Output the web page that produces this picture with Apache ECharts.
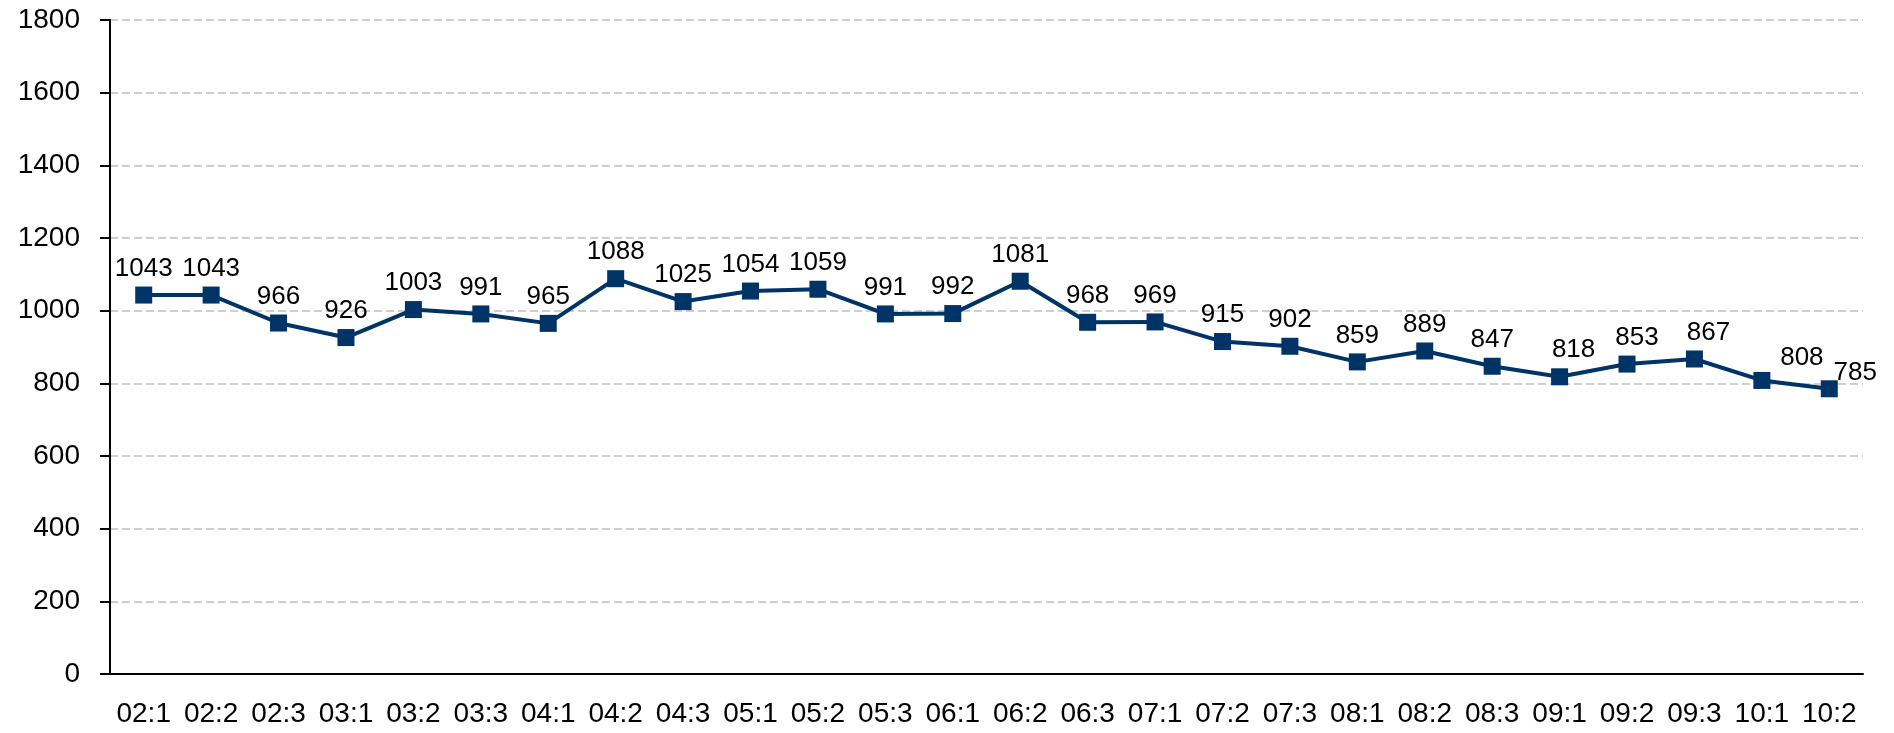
<!DOCTYPE html>
<html>
<head>
<meta charset="utf-8">
<script src="https://cdn.jsdelivr.net/npm/echarts@6/dist/echarts.min.js"></script>
<style>
html,body{margin:0;padding:0;background:#fff;}
#chart{width:1894px;height:733px;}
</style>
</head>
<body>
<div id="chart"></div>
<script>
var categories = ['02:1','02:2','02:3','03:1','03:2','03:3','04:1','04:2','04:3','05:1','05:2','05:3','06:1','06:2','06:3','07:1','07:2','07:3','08:1','08:2','08:3','09:1','09:2','09:3','10:1','10:2'];
var values = [1043,1043,966,926,1003,991,965,1088,1025,1054,1059,991,992,1081,968,969,915,902,859,889,847,818,853,867,808,785];
var yTicks = [0,200,400,600,800,1000,1200,1400,1600,1800];

var chart = echarts.init(document.getElementById('chart'));

// a few labels are nudged right in the original
var nudge = {21: [14, 0], 22: [10, 0], 23: [14, 0], 24: [40, 4], 25: [26, 11]};
var data = [];
for (var i = 0; i < values.length; i++) {
    var item = {value: values[i]};
    if (nudge[i]) item.label = {offset: nudge[i]};
    data.push(item);
}

chart.setOption({
    animation: false,
    textStyle: {fontFamily: 'Liberation Sans'},
    grid: {left: 110, right: 31, top: 20, bottom: 59},
    xAxis: {
        type: 'category',
        data: categories,
        boundaryGap: true,
        axisLine: {lineStyle: {color: '#000', width: 2}},
        axisTick: {length: 8, lineStyle: {color: '#000', width: 2}},
        axisLabel: {color: '#000', fontSize: 28, margin: 26, interval: 0},
        splitLine: {show: false}
    },
    yAxis: {
        type: 'value',
        min: yTicks[0],
        max: yTicks[yTicks.length - 1],
        interval: 200,
        axisLine: {show: true, lineStyle: {color: '#000', width: 2}},
        axisTick: {show: true, length: 10, lineStyle: {color: '#000', width: 2}},
        axisLabel: {color: '#000', fontSize: 28, margin: 30, formatter: function (v) { return String(v); }},
        splitLine: {lineStyle: {color: '#c0c0c0', width: 1.5, type: [8, 4]}}
    },
    series: [{
        type: 'line',
        data: data,
        symbol: 'rect',
        symbolSize: 17,
        showAllSymbol: true,
        lineStyle: {color: '#003366', width: 4},
        itemStyle: {color: '#003366'},
        label: {show: true, position: 'top', distance: 5, color: '#000', fontSize: 26}
    }]
});
</script>
</body>
</html>
